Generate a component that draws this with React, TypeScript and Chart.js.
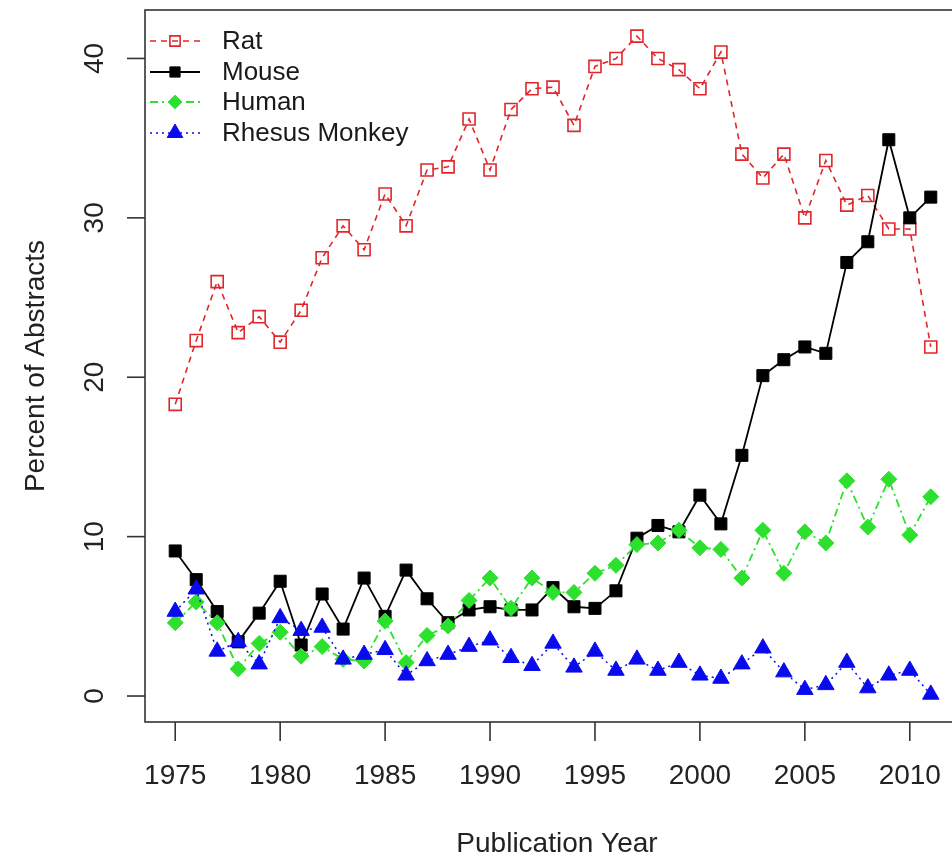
import React, { useEffect, useRef } from 'react';
import { Chart, registerables } from 'chart.js';
Chart.register(...registerables);

const years = [1975, 1976, 1977, 1978, 1979, 1980, 1981, 1982, 1983, 1984, 1985, 1986, 1987, 1988, 1989, 1990, 1991, 1992, 1993, 1994, 1995, 1996, 1997, 1998, 1999, 2000, 2001, 2002, 2003, 2004, 2005, 2006, 2007, 2008, 2009, 2010, 2011];
const rat = [18.3, 22.3, 26.0, 22.8, 23.8, 22.2, 24.2, 27.5, 29.5, 28.0, 31.5, 29.5, 33.0, 33.2, 36.2, 33.0, 36.8, 38.1, 38.2, 35.8, 39.5, 40.0, 41.4, 40.0, 39.3, 38.1, 40.4, 34.0, 32.5, 34.0, 30.0, 33.6, 30.8, 31.4, 29.3, 29.3, 21.9];
const mouse = [9.1, 7.3, 5.3, 3.4, 5.2, 7.2, 3.2, 6.4, 4.2, 7.4, 5.0, 7.9, 6.1, 4.6, 5.4, 5.6, 5.4, 5.4, 6.8, 5.6, 5.5, 6.6, 9.9, 10.7, 10.3, 12.6, 10.8, 15.1, 20.1, 21.1, 21.9, 21.5, 27.2, 28.5, 34.9, 30.0, 31.3];
const human = [4.6, 5.9, 4.6, 1.7, 3.3, 4.0, 2.5, 3.1, 2.3, 2.2, 4.7, 2.1, 3.8, 4.4, 6.0, 7.4, 5.5, 7.4, 6.5, 6.5, 7.7, 8.2, 9.5, 9.6, 10.4, 9.3, 9.2, 7.4, 10.4, 7.7, 10.3, 9.6, 13.5, 10.6, 13.6, 10.1, 12.5];
const rhesus = [5.3, 6.7, 2.8, 3.4, 2.0, 4.9, 4.1, 4.3, 2.3, 2.6, 2.9, 1.3, 2.2, 2.6, 3.1, 3.5, 2.4, 1.9, 3.3, 1.8, 2.8, 1.6, 2.3, 1.6, 2.1, 1.3, 1.1, 2.0, 3.0, 1.5, 0.4, 0.7, 2.1, 0.5, 1.3, 1.6, 0.1];

const xTicks = [1975, 1980, 1985, 1990, 1995, 2000, 2005, 2010];
const yTicks = [0, 10, 20, 30, 40];
const seriesNames = ['Rat', 'Mouse', 'Human', 'Rhesus Monkey'];
const xTitle = 'Publication Year';
const yTitle = 'Percent of Abstracts';

const RED = '#E0262B';
const BLACK = '#000000';
const GREEN = '#2EE02E';
const BLUE = '#0A0AEE';
const FONT = '"Liberation Sans", Arial, Helvetica, sans-serif';

const styles = [
  { color: RED, dash: [6, 5], width: 1.6, point: 'rect', radius: 8.5, fill: 'rgba(0,0,0,0)', pbw: 1.6 },
  { color: BLACK, dash: [], width: 1.8, point: 'rect', radius: 8.5, fill: BLACK, pbw: 1 },
  { color: GREEN, dash: [8, 4, 2, 4], width: 1.8, point: 'rectRot', radius: 8, fill: GREEN, pbw: 1 },
  { color: BLUE, dash: [2, 4], width: 1.5, point: 'triangle', radius: 9.5, fill: BLUE, pbw: 1 },
];

function toPts(vals: number[]) {
  return years.map((yr, i) => ({ x: yr, y: vals[i] }));
}

function drawMarker(ctx: CanvasRenderingContext2D, kind: string, x: number, y: number, r: number, color: string, fill: string, lw: number) {
  ctx.save();
  ctx.setLineDash([]);
  ctx.beginPath();
  if (kind === 'rect') {
    const s = Math.SQRT1_2 * r;
    ctx.rect(x - s, y - s, 2 * s, 2 * s);
  } else if (kind === 'rectRot') {
    ctx.moveTo(x, y - r);
    ctx.lineTo(x + r, y);
    ctx.lineTo(x, y + r);
    ctx.lineTo(x - r, y);
    ctx.closePath();
  } else {
    ctx.moveTo(x, y - r);
    ctx.lineTo(x + r * Math.sin(Math.PI * 2 / 3), y - r * Math.cos(Math.PI * 2 / 3));
    ctx.lineTo(x + r * Math.sin(Math.PI * 4 / 3), y - r * Math.cos(Math.PI * 4 / 3));
    ctx.closePath();
  }
  if (fill !== 'rgba(0,0,0,0)') {
    ctx.fillStyle = fill;
    ctx.fill();
  }
  ctx.strokeStyle = color;
  ctx.lineWidth = lw;
  ctx.stroke();
  ctx.restore();
}

export default function App() {
  const ref = useRef<HTMLCanvasElement>(null);
  useEffect(() => {
    const frame = {
      id: 'rframe',
      afterDraw(chart: any) {
        const ctx: CanvasRenderingContext2D = chart.ctx;
        const a = chart.chartArea;
        const xs = chart.scales.x;
        const ys = chart.scales.y;
        ctx.save();
        ctx.setLineDash([]);
        ctx.strokeStyle = '#333';
        ctx.lineWidth = 1.6;
        ctx.strokeRect(a.left, a.top, a.right - a.left, a.bottom - a.top);
        ctx.fillStyle = '#222';
        ctx.font = `28px ${FONT}`;
        // x ticks
        ctx.textAlign = 'center';
        ctx.textBaseline = 'alphabetic';
        for (const t of xTicks) {
          const px = xs.getPixelForValue(t);
          ctx.beginPath();
          ctx.moveTo(px, a.bottom);
          ctx.lineTo(px, a.bottom + 19);
          ctx.stroke();
          ctx.fillText(String(t), px, a.bottom + 62);
        }
        // y ticks
        for (const t of yTicks) {
          const py = ys.getPixelForValue(t);
          ctx.beginPath();
          ctx.moveTo(a.left, py);
          ctx.lineTo(a.left - 18, py);
          ctx.stroke();
          ctx.save();
          ctx.translate(95, py);
          ctx.rotate(-Math.PI / 2);
          ctx.textAlign = 'center';
          ctx.textBaseline = 'middle';
          ctx.fillText(String(t), 0, 0);
          ctx.restore();
        }
        // titles
        ctx.textAlign = 'center';
        ctx.textBaseline = 'alphabetic';
        ctx.fillText(xTitle, 557, 852);
        ctx.save();
        ctx.translate(36, (a.top + a.bottom) / 2);
        ctx.rotate(-Math.PI / 2);
        ctx.textBaseline = 'middle';
        ctx.fillText(yTitle, 0, 0);
        ctx.restore();
        // legend
        const rows = [41, 72, 102, 133];
        ctx.font = `26px ${FONT}`;
        ctx.textAlign = 'left';
        ctx.textBaseline = 'middle';
        seriesNames.forEach((name, i) => {
          const st = styles[i];
          const y = rows[i];
          ctx.save();
          ctx.strokeStyle = st.color;
          ctx.lineWidth = st.width;
          ctx.setLineDash(st.dash);
          ctx.beginPath();
          ctx.moveTo(150, y);
          ctx.lineTo(200, y);
          ctx.stroke();
          ctx.restore();
          drawMarker(ctx, st.point, 175, y, st.point === 'triangle' ? 9 : st.radius * 0.85, st.color, st.fill, st.pbw);
          ctx.fillStyle = '#1a1a1a';
          ctx.fillText(name, 222, y + 1);
        });
        ctx.restore();
      },
    };

    const seriesVals = [rat, mouse, human, rhesus];
    const chart = new Chart(ref.current as HTMLCanvasElement, {
      type: 'line',
      data: {
        datasets: seriesVals.map((vals, i) => ({
          label: seriesNames[i],
          data: toPts(vals),
          borderColor: styles[i].color,
          borderWidth: styles[i].width,
          borderDash: styles[i].dash,
          pointStyle: styles[i].point as any,
          pointRadius: styles[i].radius,
          pointBackgroundColor: styles[i].fill,
          pointBorderColor: styles[i].color,
          pointBorderWidth: styles[i].pbw,
          tension: 0,
          fill: false,
          order: 4 - i,
          clip: false as any,
        })),
      },
      options: {
        responsive: false,
        animation: false,
        events: [],
        layout: { autoPadding: false, padding: { left: 145, top: 10, right: 14, bottom: 137 } } as any,
        scales: {
          x: { type: 'linear', min: 1973.56, max: 2012.44, display: false },
          y: { type: 'linear', min: -1.63, max: 43.04, display: false },
        },
        plugins: { legend: { display: false }, tooltip: { enabled: false } },
      },
      plugins: [frame],
    });
    return () => chart.destroy();
  }, []);
  return (
    <div style={{ position: 'fixed', left: 0, top: 0, width: 952, height: 859, overflow: 'hidden', background: '#fff' }}>
      <canvas ref={ref} width={975} height={859} style={{ display: 'block' }} />
    </div>
  );
}
